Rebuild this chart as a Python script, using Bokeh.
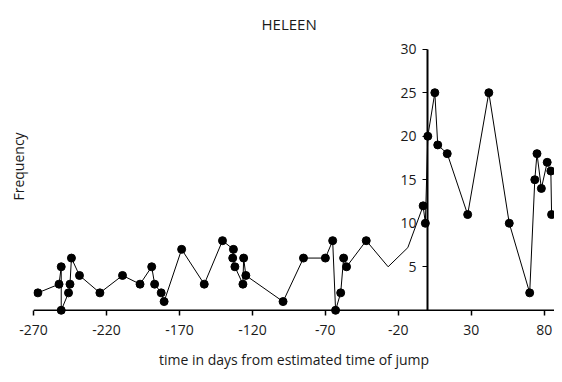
from bokeh.plotting import figure
from bokeh.models import Range1d, FixedTicker, Title, Span
from bokeh.embed import file_html
from bokeh.resources import INLINE

# data (days from estimated jump, frequency); points without a marker are line vertices only
days = [-267, -252.5, -251, -251, -246, -245, -244, -238.5, -224.5, -209, -197, -189, -187,
        -182.5, -180.5, -168.5, -153, -140.5, -133, -133.5, -132, -126.5, -126, -124.5,
        -99, -85, -70, -65, -63, -59.5, -57.5, -55.5, -42, -27, -13.5, -3, -1.5, 0.2,
        5, 7, 13.5, 27.5, 42, 56, 70, 73.5, 75, 78, 82, 84.5, 85]
freq = [2, 3, 5, 0, 2, 3, 6, 4, 2, 4, 3, 5, 3,
        2, 1, 7, 3, 8, 7, 6, 5, 3, 6, 4,
        1, 6, 6, 8, 0, 2, 6, 5, 8, 5, 7.2, 12, 10, 20,
        25, 19, 18, 11, 25, 10, 2, 15, 18, 14, 17, 16, 11]
marked = [True] * len(days)
marked[33] = False
marked[34] = False

x_ticks = [-270, -220, -170, -120, -70, -20, 30, 80]
x_tick_labels = ["-270", "-220", "-170", "-120", "-70", "-20", "30", "80"]
y_ticks = [5, 10, 15, 20, 25, 30]

FONT = "Open Sans"
TXT = "#1a1a1a"

p = figure(width=554, height=374, output_backend="svg", toolbar_location=None,
           x_range=Range1d(-270, 87), y_range=Range1d(-0.6, 31),
           min_border_left=33, min_border_right=0, min_border_top=40, min_border_bottom=59,
           title="HELEEN")
p.grid.visible = False
p.outline_line_color = None

p.title.align = "left"
p.title.offset = 228
p.title.text_font = FONT
p.title.text_font_style = "normal"
p.title.text_font_size = "15px"
p.title.text_color = TXT
p.title.standoff = 14

p.add_layout(Title(text="Frequency", align="left", text_font=FONT, text_font_style="normal",
                   text_font_size="14px", text_color=TXT, standoff=12, offset=115), "left")

xa = p.xaxis[0]
xa.ticker = FixedTicker(ticks=x_ticks)
xa.major_label_overrides = dict(zip(x_ticks, x_tick_labels))
xa.axis_line_color = None
xa.major_tick_out = 0
xa.major_tick_in = 5
xa.major_tick_line_width = 1.5
xa.minor_tick_out = 0
xa.minor_tick_in = 0
xa.axis_label = "time in days from estimated time of jump"
xa.axis_label_text_font = FONT
xa.axis_label_text_font_style = "normal"
xa.axis_label_text_font_size = "14px"
xa.axis_label_text_color = TXT
xa.axis_label_standoff = 12
xa.major_label_text_font = FONT
xa.major_label_text_font_size = "14px"
xa.major_label_text_color = TXT
xa.major_label_standoff = 9

p.add_layout(Span(location=0, dimension="width", line_color="black", line_width=1.5))

ya = p.yaxis[0]
ya.fixed_location = 0
ya.bounds = (0, 30)
ya.ticker = FixedTicker(ticks=y_ticks)
ya.major_tick_out = 5
ya.major_tick_in = 0
ya.minor_tick_out = 0
ya.minor_tick_in = 0
ya.axis_line_width = 2
ya.major_label_text_font = FONT
ya.major_label_text_font_size = "14px"
ya.major_label_text_color = TXT
ya.major_label_standoff = 6

p.line(days, freq, line_color="black", line_width=1)
mx = [d for d, m in zip(days, marked) if m]
my = [f for f, m in zip(freq, marked) if m]
p.scatter(mx, my, size=8, fill_color="black", line_color="black")

open("out.html", "w").write(file_html(p, INLINE))
